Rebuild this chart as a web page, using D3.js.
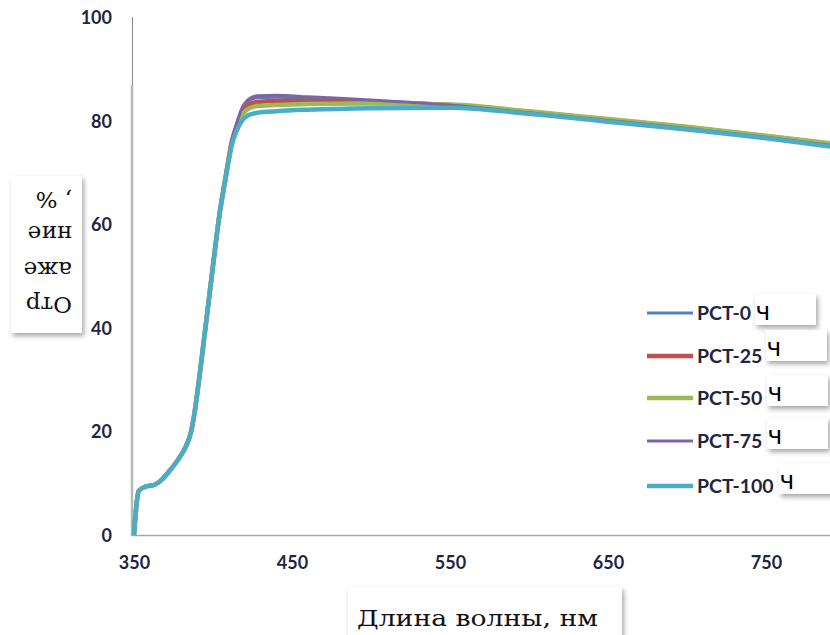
<!DOCTYPE html>
<html>
<head>
<meta charset="UTF-8">
<title>Отражение</title>
<script src="https://d3js.org/d3.v7.min.js"></script>
<style>
  body { margin: 0; background: #fff; }
  .tick text { font-family: Lato, "Open Sans", sans-serif; font-weight: 700; font-size: 18px; fill: #1f2640; }
  .leg text { font-family: Lato, "Open Sans", sans-serif; font-weight: 700; font-size: 19.5px; fill: #1f2640; }
  .serif { font-family: "DejaVu Serif", "Liberation Serif", serif; fill: #111; }
</style>
</head>
<body>
<svg id="chart" width="830" height="635"></svg>
<script>
// wavelength, nm
const wavelengths = [350, 351, 353, 357, 363, 368, 372, 378, 383, 386, 388, 392, 396, 400, 404, 408,
                     412, 415, 418, 422, 428, 440, 460, 500, 550, 600, 650, 700, 750, 800];

// reflectance, %
const pct0   = [0, 4, 8.5, 9.3, 9.7, 10.8, 12.2, 14.6, 17.2, 19.8, 23, 32, 42, 52, 61.8, 69.3,
                76.3, 79.3, 81.9, 83.7, 84.4, 84.5, 84.3, 83.8, 83.0, 81.6, 80.1, 78.6, 76.9, 75.0];
const pct25  = [0, 4, 8.5, 9.3, 9.7, 10.8, 12.2, 14.6, 17.2, 19.8, 23, 32, 42, 52, 61.7, 69.2,
                76.1, 79.0, 81.4, 83.0, 83.6, 83.8, 83.8, 83.5, 83.0, 81.7, 80.2, 78.7, 77.0, 75.2];
const pct50  = [0, 4, 8.5, 9.3, 9.7, 10.8, 12.2, 14.6, 17.2, 19.8, 23, 32, 42, 52, 61.6, 69.0,
                75.8, 78.7, 80.8, 82.2, 82.8, 83.0, 83.2, 83.3, 83.1, 81.8, 80.3, 78.8, 77.1, 75.3];
const pct75  = [0, 4, 8.5, 9.3, 9.7, 10.8, 12.2, 14.6, 17.2, 19.8, 23, 32, 42, 52, 61.9, 69.4,
                76.4, 79.5, 82.2, 84.0, 84.8, 84.9, 84.6, 84.0, 83.0, 81.5, 80.0, 78.5, 76.8, 74.9];
const pct100 = [0, 4, 8.5, 9.3, 9.7, 10.8, 12.2, 14.6, 17.2, 19.8, 23, 32, 42, 52, 61.5, 68.8,
                75.4, 78.0, 79.8, 81.0, 81.5, 81.8, 82.1, 82.4, 82.5, 81.3, 79.8, 78.3, 76.6, 74.6];

const seriesNames = ["PCT-0", "PCT-25", "PCT-50", "PCT-75", "PCT-100"];
const seriesValues = [pct0, pct25, pct50, pct75, pct100];
const colors = ["#4f81bd", "#c0504d", "#9bbb59", "#8064a2", "#4bacc6"];
const widths = [3, 4.5, 4.5, 3, 4.5];

const xTicks = [350, 450, 550, 650, 750];
const yTicks = [0, 20, 40, 60, 80, 100];

const svg = d3.select("#chart");

const x = d3.scaleLinear().domain([350, 800]).range([134, 845]);
const y = d3.scaleLinear().domain([0, 100]).range([535, 17]);

// shadow for the overlay boxes
const defs = svg.append("defs");
defs.append("filter").attr("id", "shadow")
    .attr("x", "-20%").attr("y", "-20%").attr("width", "150%").attr("height", "150%")
  .append("feDropShadow")
    .attr("dx", 2).attr("dy", 3).attr("stdDeviation", 2.5)
    .attr("flood-color", "#000").attr("flood-opacity", 0.35);
defs.append("clipPath").attr("id", "plot")
  .append("rect").attr("x", 132).attr("y", 0).attr("width", 698).attr("height", 537);

// axes
svg.append("line").attr("x1", 132.5).attr("x2", 132.5).attr("y1", 17).attr("y2", 85)
   .attr("stroke", "#8a8a8a").attr("stroke-width", 1);
svg.append("line").attr("x1", 132).attr("x2", 132).attr("y1", 85).attr("y2", 536)
   .attr("stroke", "#b8b8b8").attr("stroke-width", 2.5);
svg.append("line").attr("x1", 131).attr("x2", 830).attr("y1", 535.5).attr("y2", 535.5)
   .attr("stroke", "#a8a8a8").attr("stroke-width", 1.5);

svg.append("g").attr("transform", "translate(132,0)")
   .call(d3.axisLeft(y).tickValues(yTicks).tickSize(0).tickPadding(20).tickFormat(d3.format("d")))
   .call(g => g.select(".domain").remove())
   .call(g => g.selectAll("text").attr("dy", "0.36em"));

svg.append("g").attr("transform", "translate(0,535)")
   .call(d3.axisBottom(x).tickValues(xTicks).tickSize(0).tickPadding(21).tickFormat(d3.format("d")))
   .call(g => g.select(".domain").remove());

// curves
const line = d3.line()
  .x((d, i) => x(wavelengths[i]))
  .y(d => y(d))
  .curve(d3.curveMonotoneX);

svg.append("g").attr("clip-path", "url(#plot)")
  .selectAll("path")
  .data(seriesValues)
  .join("path")
  .attr("d", line)
  .attr("fill", "none")
  .attr("stroke", (d, i) => colors[i])
  .attr("stroke-width", (d, i) => widths[i])
  .attr("stroke-linejoin", "round");

// legend
const legY = [313, 356, 398, 441, 486];
const leg = svg.append("g").attr("class", "leg");
seriesNames.forEach((name, i) => {
  leg.append("line").attr("x1", 647).attr("x2", 693)
     .attr("y1", legY[i]).attr("y2", legY[i])
     .attr("stroke", colors[i]).attr("stroke-width", widths[i]);
  leg.append("text").attr("x", 697).attr("y", legY[i]).attr("dy", "0.36em").text(name);
});

// translated "ч" overlays
const boxes = [[755, 294, 61], [766, 330, 61], [767, 375, 61], [767, 418, 61], [779, 463, 55]];
boxes.forEach(b => {
  svg.append("rect").attr("x", b[0]).attr("y", b[1]).attr("width", b[2]).attr("height", 31)
     .attr("fill", "#fff").attr("filter", "url(#shadow)");
  svg.append("text").attr("x", b[0] + 0.5).attr("y", b[1] + 26)
     .attr("font-family", "DejaVu Sans, sans-serif").attr("font-size", 25).attr("fill", "#000")
     .text("ч");
});

// y label box (upside down)
const yl = { x: 11, y: 176, w: 71, h: 157 };
svg.append("rect").attr("x", yl.x).attr("y", yl.y).attr("width", yl.w).attr("height", yl.h)
   .attr("fill", "#fff").attr("filter", "url(#shadow)");
const ylg = svg.append("g")
   .attr("transform", `rotate(180,${yl.x + yl.w / 2},${yl.y + yl.h / 2})`);
const yLines = ["Отр", "аже", "ние", ", %"];
const yBase = [212, 247, 283, 317];
yLines.forEach((t, i) => {
  ylg.append("text").attr("class", "serif").attr("x", 21).attr("y", yBase[i])
     .attr("font-size", 23).text(t);
});

// x label box
svg.append("rect").attr("x", 348).attr("y", 587).attr("width", 274).attr("height", 60)
   .attr("fill", "#fff").attr("filter", "url(#shadow)");
svg.append("text").attr("class", "serif").attr("x", 357).attr("y", 626)
   .attr("font-size", 23).attr("textLength", 241).attr("lengthAdjust", "spacingAndGlyphs")
   .text("Длина волны, нм");
</script>
</body>
</html>
